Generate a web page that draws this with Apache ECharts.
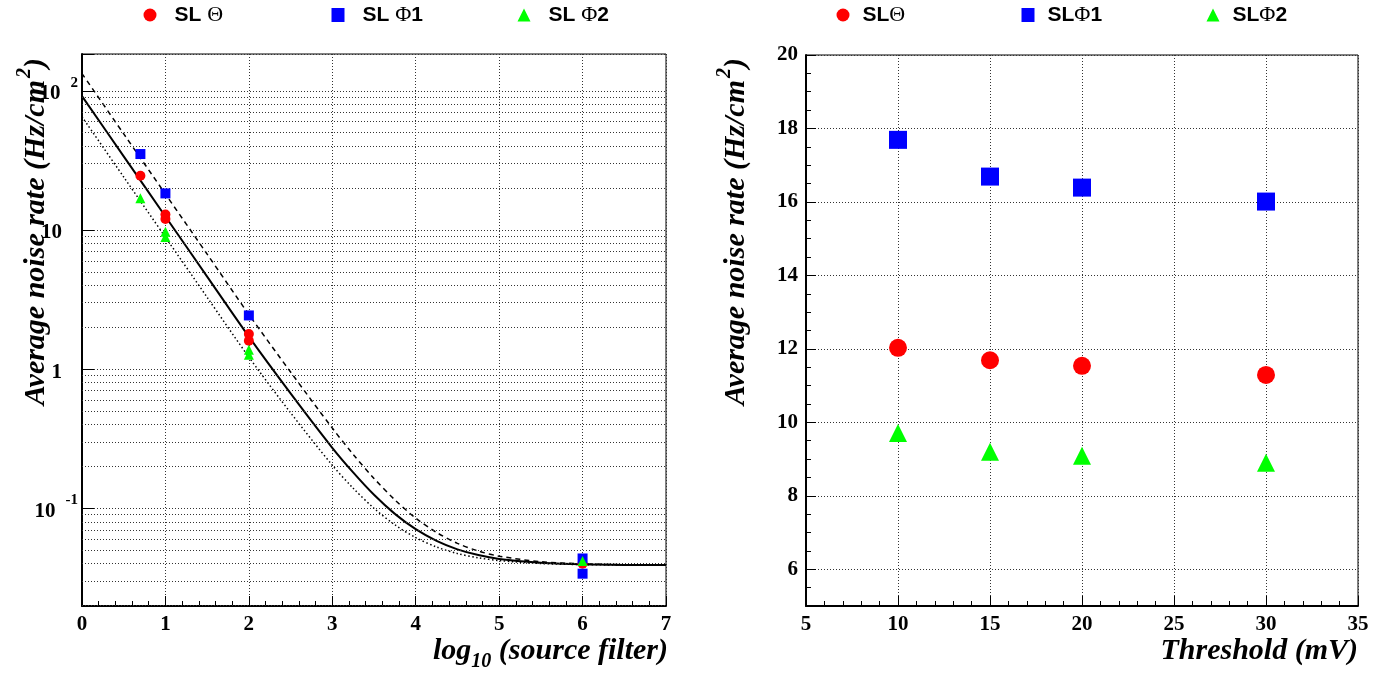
<!DOCTYPE html>
<html>
<head>
<meta charset="utf-8">
<script src="https://cdn.jsdelivr.net/npm/echarts@6.0.0/dist/echarts.min.js"></script>
<style>
html,body{margin:0;padding:0;background:#ffffff;}
#chart{width:1381px;height:675px;}
</style>
</head>
<body>
<div id="chart"></div>
<script>
// ---------- Left panel: noise rate vs log10(source filter) ----------
const thetaFilterX = [0.7, 1, 1, 2, 2, 6];
const thetaFilterY = [24.5, 12.9, 12.0, 1.79, 1.60, 0.040];
const phi1FilterX = [0.7, 1, 2, 6, 6];
const phi1FilterY = [35.1, 18.3, 2.43, 0.0436, 0.0339];
const phi2FilterX = [0.7, 1, 1, 2, 2, 6];
const phi2FilterY = [16.9, 9.7, 8.9, 1.38, 1.27, 0.0418];

// fitted curves
const fitX    = [0, 0.5, 1, 1.5, 2, 2.5, 3, 3.25, 3.5, 3.75, 4, 4.25, 4.5, 4.75, 5, 5.5, 6, 6.5, 7];
const fitMid  = [91.6, 33.8, 12.5, 4.62, 1.71, 0.669, 0.272, 0.181, 0.125, 0.0912, 0.0708, 0.0583, 0.0507, 0.0461, 0.0433, 0.0406, 0.0396, 0.0392, 0.0391];
const fitHigh = [132.8, 49.0, 18.1, 6.70, 2.47, 0.953, 0.377, 0.244, 0.164, 0.115, 0.085, 0.067, 0.056, 0.0493, 0.0453, 0.0413, 0.0399, 0.0393, 0.0391];
const fitLow  = [65.0, 24.0, 8.87, 3.28, 1.22, 0.486, 0.204, 0.1395, 0.100, 0.0761, 0.0616, 0.0527, 0.0473, 0.0441, 0.0421, 0.0401, 0.0394, 0.0391, 0.0390];

// log-axis minor grid values (2..9 per decade)
const logMinorGrid = [0.02,0.03,0.04,0.05,0.06,0.07,0.08,0.09,
                      0.2,0.3,0.4,0.5,0.6,0.7,0.8,0.9,
                      2,3,4,5,6,7,8,9,
                      20,30,40,50,60,70,80,90];

// ---------- Right panel: noise rate vs threshold ----------
const thresholds = [10, 15, 20, 30];
const thrTheta = [12.03, 11.69, 11.54, 11.29];
const thrPhi1  = [17.69, 16.69, 16.39, 16.01];
const thrPhi2  = [9.71, 9.20, 9.09, 8.90];

const namesLeft  = ['SL Θ', 'SL Φ1', 'SL Φ2'];
const namesRight = ['SLΘ', 'SLΦ1', 'SLΦ2'];

const RED = '#ff0000', BLUE = '#0000ff', GREEN = '#00ff00';
const SERIF = '"Liberation Serif", "DejaVu Serif", serif';
const SANS = '"Liberation Sans", Arial, sans-serif';

const pts = (xs, ys) => xs.map((x, i) => [x, ys[i]]);

const chart = echarts.init(document.getElementById('chart'), null, {renderer: 'canvas'});

const tickFont = {fontFamily: SERIF, fontWeight: 'bold', fontSize: 21, color: '#000'};
const gridLine = {show: true, lineStyle: {color: '#333', width: 1, type: [1, 2]}};

function legendItem(name, icon, centerX, w, h, textPad) {
  return {
    data: [name],
    left: centerX - w / 2,
    top: 4,
    padding: 0,
    icon: icon,
    itemWidth: w,
    itemHeight: h,
    selectedMode: false,
    itemStyle: {opacity: 1},
    formatter: n => '{b|' + n.replace(/[ΘΦ]/g, m => '}{g|' + m + '}{b|') + '}',
    textStyle: {
      padding: [0, 0, 0, textPad],
      rich: {
        b: {fontFamily: SANS, fontWeight: 'bold', fontSize: 21, color: '#000'},
        g: {fontFamily: SERIF, fontWeight: 'normal', fontSize: 22, color: '#000'}
      }
    }
  };
}

function mark(color) { return {color: color, opacity: 1}; }

const option = {
  animation: false,
  backgroundColor: '#ffffff',
  legend: [
    legendItem(namesLeft[0], 'circle', 150, 13, 13, 13),
    legendItem(namesLeft[1], 'rect', 338, 13, 14, 13),
    legendItem(namesLeft[2], 'triangle', 524, 13, 13, 13),
    legendItem(namesRight[0], 'circle', 843, 13, 13, 8),
    legendItem(namesRight[1], 'rect', 1028, 13, 14, 8),
    legendItem(namesRight[2], 'triangle', 1213, 13, 13, 8)
  ],
  grid: [
    {left: 82, top: 54, width: 584, height: 552, show: true, borderColor: '#000', borderWidth: 1, backgroundColor: 'transparent'},
    {left: 806, top: 55, width: 552, height: 551, show: true, borderColor: '#000', borderWidth: 1, backgroundColor: 'transparent'}
  ],
  xAxis: [
    {
      gridIndex: 0, type: 'value', min: 0, max: 7, interval: 1,
      axisLine: {show: true, onZero: false, lineStyle: {color: '#000', width: 2}},
      axisTick: {show: true, inside: true, length: 10, lineStyle: {color: '#000'}},
      minorTick: {show: true, splitNumber: 5, length: 5, lineStyle: {color: '#000'}},
      axisLabel: Object.assign({margin: 8}, tickFont),
      splitLine: gridLine
    },
    {
      gridIndex: 1, type: 'value', min: 5, max: 35, interval: 5,
      axisLine: {show: true, onZero: false, lineStyle: {color: '#000', width: 2}},
      axisTick: {show: true, inside: true, length: 10, lineStyle: {color: '#000'}},
      minorTick: {show: true, splitNumber: 5, length: 5, lineStyle: {color: '#000'}},
      axisLabel: Object.assign({margin: 8}, tickFont),
      splitLine: gridLine
    }
  ],
  yAxis: [
    {
      gridIndex: 0, type: 'log', logBase: 10, min: 0.01986, max: 183.7,
      axisLine: {show: true, onZero: false, lineStyle: {color: '#000', width: 2}},
      axisTick: {show: true, inside: true, length: 12, lineStyle: {color: '#000'}},
      axisLabel: {
        margin: 4,
        formatter: function (v) {
          const l = Math.log10(v), e = Math.round(l);
          if (Math.abs(l - e) > 1e-4) return '';
          if (e === 0) return '{p|1}';
          if (e === 1) return '{p|10}';
          return '{n|10}{s|' + e + '}';
        },
        rich: {
          n: {fontFamily: SERIF, fontWeight: 'bold', fontSize: 21, color: '#000', padding: [6, 0, 0, 0]},
          p: {fontFamily: SERIF, fontWeight: 'bold', fontSize: 21, color: '#000', padding: [6, 16, 0, 0]},
          s: {fontFamily: SERIF, fontWeight: 'bold', fontSize: 15, color: '#000', padding: [0, 0, 16, 10]}
        }
      },
      splitLine: gridLine
    },
    {
      gridIndex: 1, type: 'value', min: 5, max: 20, splitNumber: 7,
      axisLine: {show: true, onZero: false, lineStyle: {color: '#000', width: 2}},
      axisTick: {show: true, inside: true, length: 10, lineStyle: {color: '#000'}},
      minorTick: {show: true, splitNumber: 4, length: 5, lineStyle: {color: '#000'}},
      axisLabel: Object.assign({margin: 8, showMinLabel: false}, tickFont),
      splitLine: gridLine
    }
  ],
  graphic: [
    {
      type: 'text', x: 36, y: 58, rotation: Math.PI / 2,
      style: {
        text: '{t|Average noise rate (Hz/cm}{s|2}{t|)}',
        align: 'right', verticalAlign: 'middle',
        rich: {
          t: {fontFamily: SERIF, fontWeight: 'bold', fontStyle: 'italic', fontSize: 30, fill: '#000'},
          s: {fontFamily: SERIF, fontWeight: 'bold', fontStyle: 'italic', fontSize: 20, fill: '#000', padding: [0, 0, 22, 2]}
        }
      }
    },
    {
      type: 'text', x: 736, y: 58, rotation: Math.PI / 2,
      style: {
        text: '{t|Average noise rate (Hz/cm}{s|2}{t|)}',
        align: 'right', verticalAlign: 'middle',
        rich: {
          t: {fontFamily: SERIF, fontWeight: 'bold', fontStyle: 'italic', fontSize: 30, fill: '#000'},
          s: {fontFamily: SERIF, fontWeight: 'bold', fontStyle: 'italic', fontSize: 20, fill: '#000', padding: [0, 0, 22, 2]}
        }
      }
    },
    {
      type: 'text', x: 668, y: 651,
      style: {
        text: '{t|log}{s|10}{t| (source filter)}',
        align: 'right', verticalAlign: 'middle',
        rich: {
          t: {fontFamily: SERIF, fontWeight: 'bold', fontStyle: 'italic', fontSize: 30, fill: '#000'},
          s: {fontFamily: SERIF, fontWeight: 'bold', fontStyle: 'italic', fontSize: 20, fill: '#000', padding: [22, 0, 0, 0]}
        }
      }
    },
    {
      type: 'text', x: 1358, y: 651,
      style: {
        text: 'Threshold (mV)',
        align: 'right', verticalAlign: 'middle',
        fontFamily: SERIF, fontWeight: 'bold', fontStyle: 'italic', fontSize: 30, fill: '#000'
      }
    }
  ],
  series: [
    {
      name: 'grid-minor', type: 'line', xAxisIndex: 0, yAxisIndex: 0, data: [], z: 1, silent: true,
      markLine: {
        silent: true, symbol: ['none', 'none'], animation: false,
        label: {show: false},
        lineStyle: {color: '#333', width: 1, type: [1, 2]},
        data: logMinorGrid.map(v => ({yAxis: v}))
      }
    },
    {
      name: 'fit-high', type: 'line', xAxisIndex: 0, yAxisIndex: 0, data: pts(fitX, fitHigh),
      smooth: 0.3, showSymbol: false, symbol: 'none', z: 3,
      lineStyle: {color: '#000', width: 1.5, type: [5, 4]}
    },
    {
      name: 'fit-mid', type: 'line', xAxisIndex: 0, yAxisIndex: 0, data: pts(fitX, fitMid),
      smooth: 0.3, showSymbol: false, symbol: 'none', z: 3,
      lineStyle: {color: '#000', width: 2, type: 'solid'}
    },
    {
      name: 'fit-low', type: 'line', xAxisIndex: 0, yAxisIndex: 0, data: pts(fitX, fitLow),
      smooth: 0.3, showSymbol: false, symbol: 'none', z: 3,
      lineStyle: {color: '#000', width: 1.5, type: [1.5, 2.5]}
    },
    {
      name: namesLeft[0], type: 'scatter', xAxisIndex: 0, yAxisIndex: 0, data: pts(thetaFilterX, thetaFilterY),
      symbol: 'circle', symbolSize: 10, itemStyle: mark(RED), z: 5
    },
    {
      name: namesLeft[1], type: 'scatter', xAxisIndex: 0, yAxisIndex: 0, data: pts(phi1FilterX, phi1FilterY),
      symbol: 'rect', symbolSize: 10, itemStyle: mark(BLUE), z: 5
    },
    {
      name: namesLeft[2], type: 'scatter', xAxisIndex: 0, yAxisIndex: 0, data: pts(phi2FilterX, phi2FilterY),
      symbol: 'triangle', symbolSize: 10, itemStyle: mark(GREEN), z: 5
    },
    {
      name: namesRight[0], type: 'scatter', xAxisIndex: 1, yAxisIndex: 1, data: pts(thresholds, thrTheta),
      symbol: 'circle', symbolSize: 18, itemStyle: mark(RED), z: 5
    },
    {
      name: namesRight[1], type: 'scatter', xAxisIndex: 1, yAxisIndex: 1, data: pts(thresholds, thrPhi1),
      symbol: 'rect', symbolSize: 18, itemStyle: mark(BLUE), z: 5
    },
    {
      name: namesRight[2], type: 'scatter', xAxisIndex: 1, yAxisIndex: 1, data: pts(thresholds, thrPhi2),
      symbol: 'triangle', symbolSize: 18, itemStyle: mark(GREEN), z: 5
    }
  ]
};
chart.setOption(option);
</script>
</body>
</html>
